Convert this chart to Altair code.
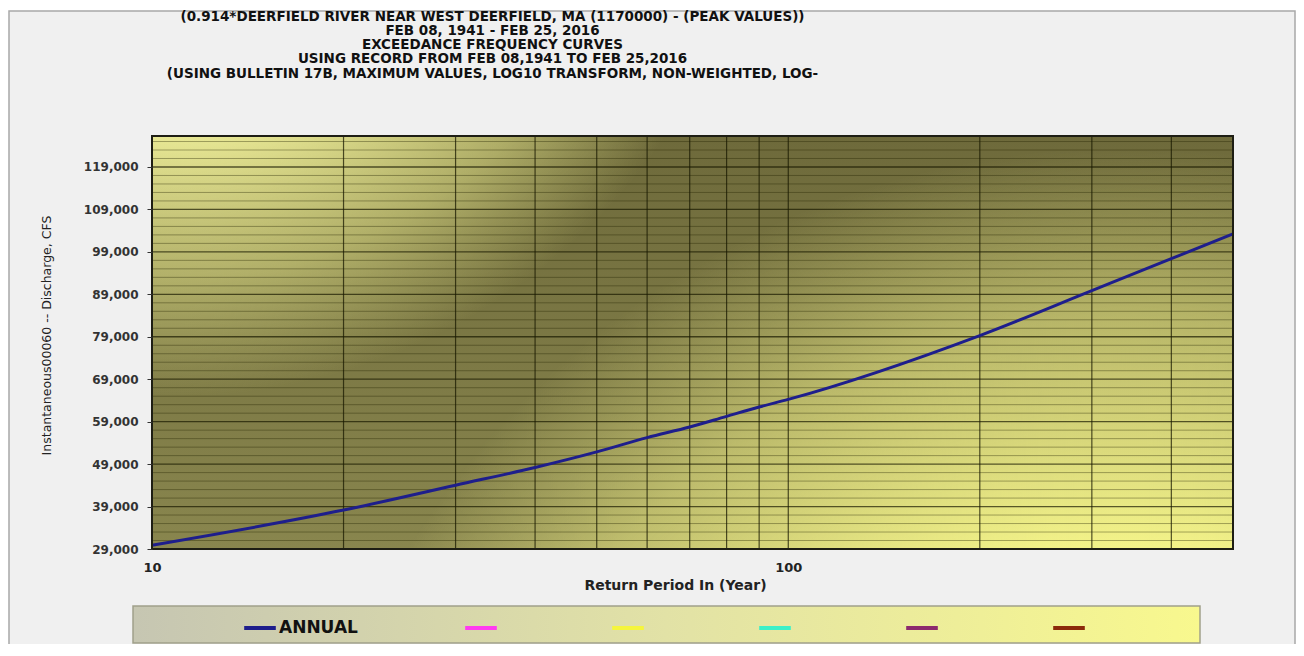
import altair as alt
import pandas as pd

# ---- data ----
return_period = [10, 20, 30, 40, 50, 60, 70, 80, 90, 100, 200, 300, 400, 500]
discharge = [29900, 38170, 44040, 48200, 51870, 55250, 57740, 60250, 62440,
             64250, 79290, 89870, 97390, 103260]

series_names = ["ANNUAL", "S2", "S3", "S4", "S5", "S6"]
series_colors = ["#1e1e8c", "#ff3cf0", "#f5f53c", "#3cf0c8", "#8c2a6e", "#8c2a0a"]

y_major = [29000, 39000, 49000, 59000, 69000, 79000, 89000, 99000, 109000, 119000]
y_minor = [v for v in range(31000, 126001, 2000) if v not in y_major]
x_grid = [20, 30, 40, 50, 60, 70, 80, 90, 100, 200, 300, 400]
x_labels = [10, 100]

title_lines = [
    "(0.914*DEERFIELD RIVER NEAR WEST DEERFIELD, MA (1170000) - (PEAK VALUES))",
    "FEB 08, 1941 -  FEB 25, 2016",
    "EXCEEDANCE FREQUENCY CURVES",
    "USING RECORD FROM FEB 08,1941 TO FEB 25,2016",
    "(USING BULLETIN 17B, MAXIMUM VALUES, LOG10 TRANSFORM, NON-WEIGHTED, LOG-",
]

W, H = 1081, 413
FONT = "DejaVu Sans"

xs = alt.Scale(type="log", domain=[10, 500], nice=False)
ys = alt.Scale(domain=[29000, 126300], nice=False, zero=False)

x_axis = alt.Axis(
    values=x_labels, format="d", grid=False, domain=False, ticks=False, zindex=2,
    labelFlush=False,
    labelFont=FONT, labelFontWeight="bold", labelFontSize=13, labelColor="#222",
    labelPadding=12, title="Return Period In (Year)", titleFont=FONT,
    titleFontWeight="bold", titleFontSize=14, titleColor="#222",
    titleX=523, titleY=36, titleBaseline="middle")
y_axis = alt.Axis(
    values=y_major, format=",d", grid=False, domain=False, tickSize=5, zindex=2,
    tickColor="#333", labelFont=FONT, labelFontWeight="bold", labelFontSize=12,
    labelColor="#333", labelPadding=9,
    title="Instantaneous00060 -- Discharge, CFS", titleFont=FONT,
    titleFontWeight="normal", titleFontSize=12.5, titleColor="#222",
    titleX=-106, titleY=199, titleAngle=270, titleBaseline="middle", titleAlign="center")

line_df = pd.DataFrame({"period": return_period, "flow": discharge,
                        "series": ["ANNUAL"] * len(return_period)})
one = pd.DataFrame({"k": [0]})

# outer frame
frame = alt.Chart(one).mark_rect(fill="#f0f0f0", stroke="#a8a8a8", strokeWidth=1.5).encode(
    x=alt.value(-143), x2=alt.value(1143), y=alt.value(-125), y2=alt.value(530))

# plot background: base + light spots
base_bg = alt.Chart(one).mark_rect(
    fill=alt.LinearGradient(gradient="linear", x1=0, y1=0, x2=0, y2=1, stops=[
        alt.GradientStop(offset=0, color="#6e6a3b"),
        alt.GradientStop(offset=1, color="#89864e")])
).encode(x=alt.value(0), x2=alt.value(W), y=alt.value(0), y2=alt.value(H))

spot_tl = alt.Chart(one).mark_rect(
    fill=alt.RadialGradient(gradient="radial", x1=0.02, y1=0, r1=0, x2=0.02, y2=0, r2=0.55, stops=[
        alt.GradientStop(offset=0, color="rgba(252,252,172,1)"),
        alt.GradientStop(offset=0.5, color="rgba(248,248,162,1)"),
        alt.GradientStop(offset=0.8, color="rgba(236,236,145,0.5)"),
        alt.GradientStop(offset=1, color="rgba(230,230,140,0)")])
).encode(x=alt.value(0), x2=alt.value(W), y=alt.value(0), y2=alt.value(H))

spot_br = alt.Chart(one).mark_rect(
    fill=alt.RadialGradient(gradient="radial", x1=0.9, y1=1.1, r1=0, x2=0.9, y2=1.1, r2=0.78, stops=[
        alt.GradientStop(offset=0, color="rgba(252,252,140,1)"),
        alt.GradientStop(offset=0.5, color="rgba(248,248,140,1)"),
        alt.GradientStop(offset=0.8, color="rgba(244,244,140,0.5)"),
        alt.GradientStop(offset=1, color="rgba(240,240,140,0)")])
).encode(x=alt.value(0), x2=alt.value(W), y=alt.value(0), y2=alt.value(H))

grid_minor = alt.Chart(pd.DataFrame({"v": y_minor})).mark_rule(
    color="#262600", opacity=0.38, strokeWidth=1).encode(y=alt.Y("v:Q", scale=ys, axis=y_axis))
grid_major = alt.Chart(pd.DataFrame({"v": y_major})).mark_rule(
    color="#1a1a00", opacity=0.7, strokeWidth=1.3).encode(y=alt.Y("v:Q", scale=ys, axis=y_axis))
grid_x = alt.Chart(pd.DataFrame({"v": x_grid})).mark_rule(
    color="#1a1a00", opacity=0.75, strokeWidth=1.2).encode(x=alt.X("v:Q", scale=xs, axis=x_axis))

legend_box = alt.Chart(one).mark_rect(
    fill=alt.LinearGradient(gradient="linear", x1=0, y1=0, x2=1, y2=0, stops=[
        alt.GradientStop(offset=0, color="#c6c6b2"),
        alt.GradientStop(offset=0.5, color="#e2e2a6"),
        alt.GradientStop(offset=1, color="#f8f88e")]),
    stroke="#a0a08a", strokeWidth=1.5
).encode(x=alt.value(-19), x2=alt.value(1048), y=alt.value(470), y2=alt.value(507))

line = alt.Chart(line_df).mark_line(strokeWidth=3, interpolate="monotone").encode(
    x=alt.X("period:Q", scale=xs, axis=x_axis),
    y=alt.Y("flow:Q", scale=ys, axis=y_axis),
    color=alt.Color("series:N", scale=alt.Scale(domain=series_names, range=series_colors),
                    legend=alt.Legend(
                        orient="none", legendX=90, legendY=474, direction="horizontal",
                        title=None, symbolType="stroke", symbolStrokeWidth=4,
                        symbolSize=1000, labelFont=FONT, labelFontSize=17,
                        labelFontWeight="bold", labelColor="#111", labelOffset=1,
                        labelExpr="datum.label == 'ANNUAL' ? 'ANNUAL   ' : ''",
                        columnPadding=99, padding=0, zindex=2)),
)

border = alt.Chart(one).mark_rect(fillOpacity=0, stroke="#1e1e14", strokeWidth=2).encode(
    x=alt.value(0), x2=alt.value(W), y=alt.value(0), y2=alt.value(H))

chart = alt.layer(frame, legend_box, base_bg, spot_tl, spot_br, grid_minor, grid_major,
                  grid_x, line, border).properties(
    width=W, height=H,
    title=alt.TitleParams(text=title_lines, anchor="middle", frame="group", dx=-200,
                          font=FONT, fontSize=13.5, fontWeight="bold", color="#111",
                          lineHeight=14.3, offset=-70, zindex=2),
    autosize=alt.AutoSizeParams(type="none"),
    padding={"left": 144, "top": 128, "right": 63, "bottom": 95},
    background="white",
).configure_view(stroke=None)

chart.save("out.html", embed_options={"renderer": "svg", "actions": False})
